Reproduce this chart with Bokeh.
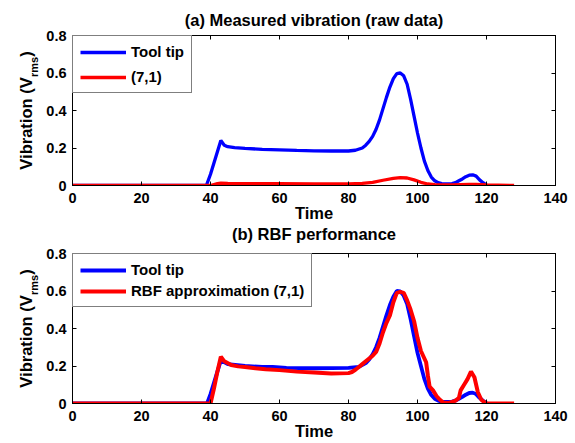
from bokeh.plotting import figure
from bokeh.models import (Range1d, LinearAxis, FixedTicker, Legend, LegendItem, Title)
from bokeh.layouts import column
from bokeh.embed import file_html
from bokeh.resources import INLINE

# ---------------- data ----------------
x_ticks = [0, 20, 40, 60, 80, 100, 120, 140]
x_tick_labels = ["0", "20", "40", "60", "80", "100", "120", "140"]
y_ticks = [0, 0.2, 0.4, 0.6, 0.8]
y_tick_labels = ["0", "0.2", "0.4", "0.6", "0.8"]

title_a = "(a) Measured vibration (raw data)"
title_b = "(b) RBF performance"
x_label = "Time"
y_label_main = "Vibration (V"
y_label_sub = "rms"
y_label_end = ")"

# (a) Tool tip raw
t_a_tool = [0, 38.8, 40, 41, 42, 43, 44, 45, 47, 50, 55, 60, 65, 70, 75, 80, 82, 84, 85, 86, 87, 88, 89,
            90, 91, 92, 93, 94, 95, 96, 97, 98, 99, 100, 101, 102, 103, 104, 105, 106, 107, 108, 109,
            110, 111, 112, 113, 114, 115, 116, 117, 118, 119, 120]
v_a_tool = [0, 0, 0.06, 0.12, 0.18, 0.24, 0.215, 0.207, 0.202, 0.198, 0.193, 0.19, 0.187, 0.185, 0.184,
            0.184, 0.188, 0.2, 0.215, 0.235, 0.262, 0.3, 0.35, 0.41, 0.47, 0.525, 0.57, 0.597, 0.6, 0.585,
            0.54, 0.46, 0.37, 0.28, 0.2, 0.13, 0.08, 0.045, 0.025, 0.015, 0.01, 0.008, 0.008, 0.01, 0.015,
            0.025, 0.035, 0.047, 0.055, 0.057, 0.05, 0.03, 0.015, 0.002]

# (a) sensor (7,1) raw
t_a_71 = [0, 40, 41, 42, 43, 45, 50, 60, 70, 80, 84, 87, 90, 93, 95, 97, 99, 101, 103, 105, 110, 115,
          117, 120, 128]
v_a_71 = [0, 0, 0.005, 0.01, 0.012, 0.011, 0.01, 0.01, 0.009, 0.009, 0.011, 0.017, 0.028, 0.038, 0.042,
          0.04, 0.03, 0.017, 0.008, 0.004, 0.003, 0.006, 0.006, 0.003, 0]

# (b) Tool tip
t_b_tool = [0, 39, 40, 41, 42, 43, 45, 50, 55, 58, 62, 70, 80, 83, 85, 86, 87, 88, 89, 90, 91, 92, 93,
            94, 95, 96, 97, 98, 99, 100, 101, 102, 103, 104, 105, 106, 107, 108, 109, 110, 111, 112,
            113, 114, 115, 116, 117, 118, 119, 120]
v_b_tool = [0, 0, 0.05, 0.11, 0.17, 0.23, 0.21, 0.2, 0.195, 0.195, 0.19, 0.188, 0.19, 0.195, 0.215,
            0.235, 0.262, 0.3, 0.35, 0.41, 0.47, 0.525, 0.57, 0.6, 0.598, 0.575, 0.53, 0.45, 0.36, 0.27,
            0.2, 0.13, 0.08, 0.045, 0.025, 0.015, 0.01, 0.008, 0.008, 0.01, 0.015, 0.025, 0.035, 0.047,
            0.056, 0.058, 0.05, 0.03, 0.015, 0.002]

# (b) RBF approximation (7,1)
t_b_rbf = [0, 40, 41, 42, 43, 44, 46, 48, 50, 53, 56, 60, 65, 70, 75, 80, 81, 82, 83, 84, 85, 86, 87,
           88, 89, 90, 91, 92, 93, 94, 95, 96, 97, 98, 99, 100, 101, 102, 102.5, 103, 103.5, 104.5,
           105.5, 106.5, 107.5, 109, 110, 111, 112, 112.5, 113.5, 114.5, 115.5, 116.5, 117.5, 118.5,
           119.5, 120, 128]
v_b_rbf = [0, 0, 0.08, 0.17, 0.25, 0.225, 0.205, 0.198, 0.195, 0.188, 0.183, 0.178, 0.17, 0.165, 0.16,
           0.162, 0.168, 0.18, 0.195, 0.21, 0.225, 0.24, 0.255, 0.275, 0.32, 0.38, 0.43, 0.47, 0.54,
           0.59, 0.595, 0.59, 0.55, 0.5, 0.44, 0.35, 0.28, 0.24, 0.22, 0.15, 0.09, 0.07, 0.04, 0.02,
           0.005, 0.003, 0.008, 0.015, 0.03, 0.07, 0.1, 0.13, 0.17, 0.14, 0.06, 0.02, 0.005, 0, 0]

# ---------------- styling ----------------
FONT = "Liberation Sans"
BLUE = "#0000FF"
RED = "#FF0000"
W = 575
BL, BR = 72, 20            # frame 483 px wide
FRAME_H = 150
H1, H2 = 247, 196
BOLD = dict(text_font=FONT, text_font_style="bold", text_color="black")


def make_fig(height, top, bottom):
    p = figure(width=W, height=height, output_backend="svg", toolbar_location=None,
               x_range=Range1d(0, 140), y_range=Range1d(0, 0.8),
               min_border_left=BL, min_border_right=BR, min_border_top=top,
               min_border_bottom=bottom, background_fill_color="white", border_fill_color="white")
    p.xgrid.visible = False
    p.ygrid.visible = False
    p.outline_line_color = "black"
    p.xaxis.ticker = FixedTicker(ticks=x_ticks)
    p.yaxis.ticker = FixedTicker(ticks=y_ticks)
    p.xaxis.major_label_overrides = dict(zip(x_ticks, x_tick_labels))
    p.yaxis.major_label_overrides = dict(zip(y_ticks, y_tick_labels))
    for ax in (p.xaxis[0], p.yaxis[0]):
        ax.major_tick_in = 4
        ax.major_tick_out = 0
        ax.minor_tick_line_color = None
        ax.axis_line_color = "black"
        ax.major_tick_line_color = "black"
        ax.major_label_text_font = FONT
        ax.major_label_text_font_style = "bold"
        ax.major_label_text_font_size = "14.5px"
        ax.major_label_text_color = "black"
    p.xaxis.major_label_standoff = 7
    p.yaxis.major_label_standoff = 6
    p.xaxis.axis_label = x_label
    p.xaxis.axis_label_text_font = FONT
    p.xaxis.axis_label_text_font_style = "bold"
    p.xaxis.axis_label_text_font_size = "16.5px"
    p.xaxis.axis_label_text_color = "black"
    p.xaxis.axis_label_standoff = -2
    # mirrored tick marks on top and right (no labels)
    top_ax = LinearAxis(ticker=FixedTicker(ticks=[], minor_ticks=x_ticks), minor_tick_in=4,
                        minor_tick_out=0, minor_tick_line_color="black", major_tick_line_color=None,
                        axis_line_color="black")
    right_ax = LinearAxis(ticker=FixedTicker(ticks=[], minor_ticks=y_ticks), minor_tick_in=4,
                          minor_tick_out=0, minor_tick_line_color="black", major_tick_line_color=None,
                          axis_line_color="black")
    p.add_layout(top_ax, "above")
    p.add_layout(right_ax, "right")
    # y label "Vibration (V_rms)" built from three rotated titles
    main_len = 5.612 * 16.5
    sub_len = 1.834 * 11
    total = main_len + sub_len + 0.333 * 16.5
    off0 = FRAME_H / 2 - total / 2
    p.add_layout(Title(text=y_label_sub, align="left", vertical_align="top", standoff=4,
                       offset=off0 + main_len, text_font_size="11px", **BOLD), "left")
    p.add_layout(Title(text=y_label_main, align="left", vertical_align="middle", standoff=-20,
                       offset=off0, text_font_size="16.5px", **BOLD), "left")
    p.add_layout(Title(text=y_label_end, align="left", vertical_align="middle", standoff=-20,
                       offset=off0 + main_len + sub_len, text_font_size="16.5px", **BOLD), "left")
    return p


def add_legend(p, items, padding, spacing, lh):
    lg = Legend(items=items, location="top_left", margin=0, padding=padding, spacing=spacing,
                label_height=lh, glyph_height=lh, glyph_width=46, label_standoff=5,
                border_line_color="black", border_line_width=1, background_fill_color="white",
                background_fill_alpha=1, label_text_font=FONT, label_text_font_style="bold",
                label_text_font_size="15px", label_text_color="black")
    p.add_layout(lg, "center")


# ---------------- (a) ----------------
p1 = make_fig(H1, 35, H1 - 35 - FRAME_H)
p1.add_layout(Title(text=title_a, align="center", vertical_align="bottom", standoff=13,
                    text_font_size="16.5px", **BOLD), "above")
r1 = p1.line(t_a_tool, v_a_tool, line_color=BLUE, line_width=3.3)
r2 = p1.line(t_a_71, v_a_71, line_color=RED, line_width=3.3)
add_legend(p1, [LegendItem(label="Tool tip", renderers=[r1]), LegendItem(label="(7,1)", renderers=[r2])],
           7, 8, 16)
# title of panel (b) sits in the strip between the two plots
p1.add_layout(Title(text=title_b, align="center", vertical_align="top", standoff=1,
                    text_font_size="16.5px", **BOLD), "below")

# ---------------- (b) ----------------
p2 = make_fig(H2, 6, H2 - 6 - FRAME_H)
r3 = p2.line(t_b_tool, v_b_tool, line_color=BLUE, line_width=3.8)
r4 = p2.line(t_b_rbf, v_b_rbf, line_color=RED, line_width=4)
add_legend(p2, [LegendItem(label="Tool tip", renderers=[r3]),
                LegendItem(label="RBF approximation (7,1)", renderers=[r4])], 7, 4, 16)

layout = column(p1, p2, spacing=0)
open("out.html", "w").write(file_html(layout, INLINE))
